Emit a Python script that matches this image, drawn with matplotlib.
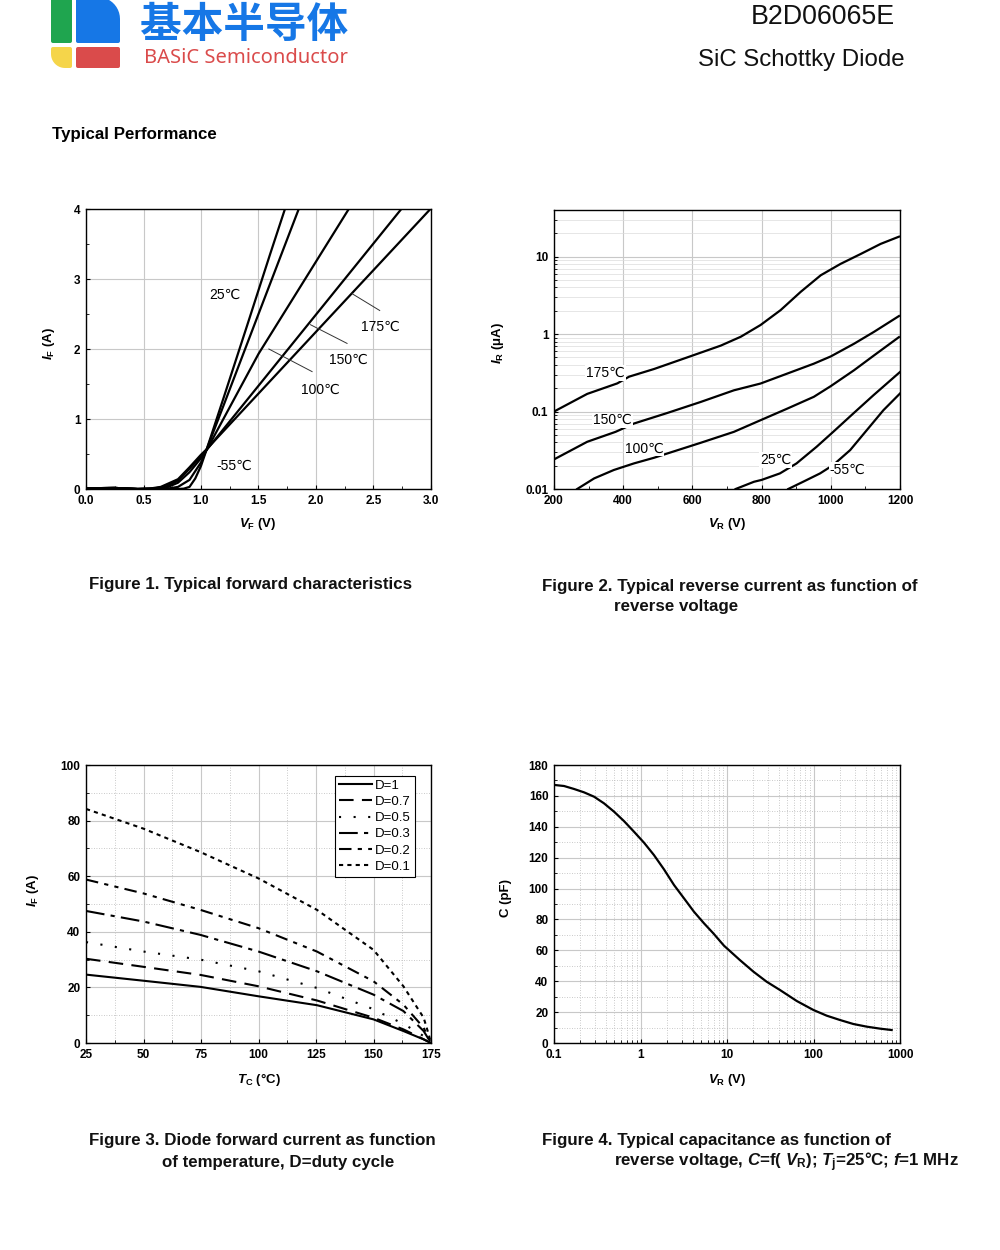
import numpy as np
import matplotlib
matplotlib.use("Agg")
import matplotlib.pyplot as plt
from matplotlib.patches import Polygon
from matplotlib.ticker import MultipleLocator, FixedLocator, FuncFormatter, NullFormatter, LogLocator

plt.rcParams['font.family'] = ['Liberation Sans', 'DejaVu Sans']
plt.rcParams['mathtext.fontset'] = 'custom'
plt.rcParams['mathtext.rm'] = 'Liberation Sans:bold'
plt.rcParams['mathtext.it'] = 'Liberation Sans:italic:bold'
plt.rcParams['mathtext.bf'] = 'Liberation Sans:bold'

# ---------------- Figure 1 data: forward characteristics ----------------
vf_m55 = [0.0, 0.25, 0.45, 0.80, 0.85, 0.90, 0.95, 1.00, 1.05, 1.20, 1.40, 1.60, 1.73]
if_m55 = [0.01, 0.015, 0.0, 0.0, 0.005, 0.03, 0.15, 0.33, 0.57, 1.32, 2.33, 3.35, 4.0]
vf_25 = [0.0, 0.25, 0.45, 0.70, 0.80, 0.90, 1.00, 1.05, 1.20, 1.50, 1.85]
if_25 = [0.01, 0.015, 0.0, 0.003, 0.03, 0.13, 0.38, 0.57, 1.21, 2.5, 4.0]
vf_100 = [0.0, 0.25, 0.45, 0.60, 0.70, 0.80, 0.90, 1.00, 1.05, 1.50, 2.285]
if_100 = [0.01, 0.015, 0.0, 0.005, 0.02, 0.09, 0.24, 0.44, 0.56, 1.93, 4.0]
vf_150 = [0.0, 0.25, 0.45, 0.60, 0.70, 0.80, 0.90, 1.00, 1.05, 2.742]
if_150 = [0.01, 0.015, 0.0, 0.01, 0.04, 0.12, 0.29, 0.47, 0.56, 4.0]
vf_175 = [0.0, 0.25, 0.45, 0.55, 0.65, 0.80, 0.90, 1.00, 1.05, 2.995]
if_175 = [0.01, 0.015, 0.0, 0.005, 0.03, 0.14, 0.31, 0.49, 0.57, 4.0]

# ---------------- Figure 2 data: reverse current ----------------
vr_175 = [200, 296, 383, 417, 489, 585, 682, 740, 797, 855, 913, 971, 1028, 1086, 1144, 1197]
ir_175 = [0.1, 0.169, 0.231, 0.282, 0.354, 0.50, 0.71, 0.925, 1.31, 2.04, 3.51, 5.75, 8.05, 10.8, 14.6, 18.1]
vr_150 = [200, 296, 378, 431, 528, 624, 720, 797, 874, 951, 1000, 1067, 1125, 1197]
ir_150 = [0.0241, 0.0407, 0.0547, 0.070, 0.096, 0.133, 0.188, 0.23, 0.309, 0.415, 0.515, 0.75, 1.07, 1.71]
vr_100 = [267, 316, 373, 431, 489, 528, 624, 720, 797, 874, 951, 1000, 1067, 1125, 1197]
ir_100 = [0.01, 0.0137, 0.0176, 0.0214, 0.0253, 0.0288, 0.0395, 0.0547, 0.0773, 0.109, 0.155, 0.213, 0.341, 0.531, 0.914]
vr_25 = [725, 778, 800, 853, 901, 959, 1007, 1065, 1123, 1200]
ir_25 = [0.01, 0.0124, 0.0131, 0.0159, 0.0214, 0.0351, 0.0547, 0.0944, 0.162, 0.324]
vr_m55 = [877, 920, 969, 1007, 1056, 1104, 1152, 1200]
ir_m55 = [0.01, 0.0124, 0.0159, 0.0204, 0.0318, 0.0575, 0.104, 0.171]

# ---------------- Figure 3 data: current derating ----------------
tc_d10 = [25, 50, 74.7, 100, 125.4, 150, 163, 171.8, 175]
if_d10 = [24.6, 22.4, 20.2, 16.8, 13.6, 8.5, 4.3, 1.3, 0.0]
tc_d07 = [25, 50, 74.7, 100, 125.4, 150, 163, 170, 175]
if_d07 = [30.3, 27.4, 24.5, 20.4, 15.3, 9.1, 4.9, 2.1, 0.0]
tc_d05 = [25, 50, 74.7, 100, 125.4, 148.6, 163, 171.8, 175]
if_d05 = [36.3, 32.9, 30.0, 25.8, 19.8, 12.6, 6.9, 2.5, 0.0]
tc_d03 = [25, 50, 74.7, 100, 125.4, 150, 163, 171.8, 175]
if_d03 = [47.5, 43.7, 38.9, 32.9, 25.8, 17.4, 11.5, 4.3, 0.0]
tc_d02 = [25, 50, 74.7, 100, 125.4, 150, 163, 171.8, 175]
if_d02 = [58.8, 53.8, 47.9, 41.3, 32.9, 22.2, 13.8, 5.5, 0.0]
tc_d01 = [25, 50, 74.7, 100, 125.4, 150, 163, 171.8, 174, 175]
if_d01 = [84.2, 77.1, 68.7, 59.2, 47.9, 33.5, 20.4, 9.1, 3.1, 0.0]
duty_labels = ["D=1", "D=0.7", "D=0.5", "D=0.3", "D=0.2", "D=0.1"]

# ---------------- Figure 4 data: capacitance ----------------
vr_cap = [0.1, 0.1306, 0.17, 0.2224, 0.29, 0.378, 0.494, 0.644, 0.841, 1.098, 1.43, 1.87, 2.44, 3.18,
          4.15, 5.42, 6.95, 9.23, 14.1, 20.2, 28.7, 41.0, 64, 99.6, 142, 202, 289, 411, 587, 800]
c_cap = [167.1, 166.4, 164.5, 162.3, 159.5, 155.2, 149.8, 143.7, 136.8, 129.7, 121.7, 112.4, 102.3, 93.7,
         85.0, 77.5, 71.0, 63.0, 53.7, 46.2, 39.7, 34.3, 27.2, 21.4, 17.7, 14.9, 12.3, 10.6, 9.3, 8.4]

# ---------------- figure ----------------
W, H = 1000, 1250
fig = plt.figure(figsize=(10, 12.5), dpi=100)

def fx(x):
    return x / W

def fy(y):
    return 1 - y / H

def rect(l, t, r, b):
    return [l / W, 1 - b / H, (r - l) / W, (b - t) / H]

GRID = '#c8c8c8'
TICKFS = 8.5

def style_axes(ax):
    for s in ax.spines.values():
        s.set_linewidth(1.0)
    ax.tick_params(which='both', direction='in', labelsize=TICKFS, top=False, right=False)
    ax.tick_params(which='major', length=3, width=0.8, pad=4)
    ax.tick_params(which='minor', length=2, width=0.6)
    for lab in ax.get_xticklabels() + ax.get_yticklabels():
        lab.set_fontweight('bold')

# ---- header ----
bg = fig.add_axes([0, 0, 1, 1], zorder=-5)
bg.set_xlim(0, W)
bg.set_ylim(H, 0)
bg.axis('off')

def rounded_poly(l, t, r, b, radii):
    tl, tr, br, bl = radii
    pts = []
    def arc(cx, cy, rr, a0, a1):
        a = np.linspace(np.radians(a0), np.radians(a1), 12)
        return [(cx + rr * np.cos(t_), cy + rr * np.sin(t_)) for t_ in a]
    pts += arc(l + tl, t + tl, tl, 180, 270)
    pts += arc(r - tr, t + tr, tr, 270, 360)
    pts += arc(r - br, b - br, br, 0, 90)
    pts += arc(l + bl, b - bl, bl, 90, 180)
    return pts

bg.add_patch(Polygon(rounded_poly(51, -3, 72, 43, (2, 2, 2, 2)), closed=True, color='#1fa54f', lw=0))
bg.add_patch(Polygon(rounded_poly(76, -3, 120, 43, (2, 22, 2, 2)), closed=True, color='#1677e6', lw=0))
bg.add_patch(Polygon(rounded_poly(51, 47, 72, 68, (2, 2, 2, 14)), closed=True, color='#f5d54a', lw=0))
bg.add_patch(Polygon(rounded_poly(76, 47, 120, 68, (2, 2, 2, 2)), closed=True, color='#da4b4b', lw=0))

fig.text(fx(140), fy(25), "基本半导体", family=['Noto Sans CJK SC', 'DejaVu Sans'], fontweight='black',
         fontsize=30, color='#1677e6', ha='left', va='center')
fig.text(fx(144), fy(58), "BASiC Semiconductor", family=['Noto Sans', 'DejaVu Sans'],
         fontsize=14.5, color='#da4b4b', ha='left', va='center')
fig.text(fx(895), fy(17), "B2D06065E", fontsize=19.3, ha='right', va='center', color='#111111')
fig.text(fx(905), fy(60), "SiC Schottky Diode", fontsize=17.3, ha='right', va='center', color='#111111')
fig.text(fx(52), fy(134), "Typical Performance", fontsize=12.2, fontweight='bold', ha='left', va='center')

# ---- Figure 1 ----
ax1 = fig.add_axes(rect(86, 209, 431, 489))
for v, i in [(vf_m55, if_m55), (vf_25, if_25), (vf_100, if_100), (vf_150, if_150), (vf_175, if_175)]:
    ax1.plot(v, i, color='black', lw=1.6, solid_joinstyle='round')
ax1.set_xlim(0, 3.0)
ax1.set_ylim(0, 4)
ax1.xaxis.set_major_locator(MultipleLocator(0.5))
ax1.xaxis.set_minor_locator(MultipleLocator(0.25))
ax1.yaxis.set_major_locator(MultipleLocator(1))
ax1.yaxis.set_minor_locator(MultipleLocator(0.5))
ax1.xaxis.set_major_formatter(FuncFormatter(lambda x, p: f"{x:.1f}"))
ax1.grid(True, which='major', color=GRID, lw=0.8)
ax1.set_axisbelow(True)
style_axes(ax1)
lblkw = dict(fontsize=10, ha='center', va='center')
ax1.text(1.21, 2.78, "25℃", **lblkw)
ax1.text(1.29, 0.33, "-55℃", **lblkw)
ax1.text(2.04, 1.42, "100℃", **lblkw)
ax1.text(2.285, 1.85, "150℃", **lblkw)
ax1.text(2.56, 2.32, "175℃", **lblkw)
ax1.plot([1.59, 1.966], [2.0, 1.677], color='#333333', lw=0.7)
ax1.plot([1.952, 2.27], [2.347, 2.08], color='#333333', lw=0.7)
ax1.plot([2.314, 2.554], [2.79, 2.55], color='#333333', lw=0.7)
fig.text(fx(258), fy(524), r"$V_{\rm F}$ (V)", fontsize=9.5, fontweight='bold', ha='center', va='center')
fig.text(fx(49), fy(343), r"$I_{\rm F}$ (A)", fontsize=9.5, fontweight='bold', ha='center', va='center', rotation=90)

# ---- Figure 2 ----
ax2 = fig.add_axes(rect(554, 210, 900, 489))
for v, i in [(vr_175, ir_175), (vr_150, ir_150), (vr_100, ir_100), (vr_25, ir_25), (vr_m55, ir_m55)]:
    ax2.plot(v, i, color='black', lw=1.6, solid_joinstyle='round')
ax2.set_yscale('log')
ax2.set_xlim(200, 1200)
ax2.set_ylim(0.01, 40)
ax2.xaxis.set_major_locator(MultipleLocator(200))
ax2.xaxis.set_minor_locator(MultipleLocator(100))
ax2.yaxis.set_major_locator(FixedLocator([0.01, 0.1, 1, 10]))
ax2.yaxis.set_major_formatter(FuncFormatter(lambda y, p: {0.01: "0.01", 0.1: "0.1", 1: "1", 10: "10"}.get(round(y, 4), "")))
ax2.yaxis.set_minor_locator(LogLocator(base=10, subs=np.arange(2, 10)))
ax2.yaxis.set_minor_formatter(NullFormatter())
ax2.grid(True, which='major', color=GRID, lw=0.8)
ax2.grid(True, which='minor', axis='y', color='#dcdcdc', lw=0.5)
ax2.set_axisbelow(True)
style_axes(ax2)
bbox = dict(facecolor='white', edgecolor='none', pad=0.5)
lk2 = dict(fontsize=10, ha='center', va='center', bbox=bbox, zorder=5)
ax2.text(349, 0.315, "175℃", **lk2)
ax2.text(369, 0.0773, "150℃", **lk2)
ax2.text(460, 0.0334, "100℃", **lk2)
ax2.text(841, 0.0236, "25℃", **lk2)
ax2.text(1048, 0.0179, "-55℃", **lk2)
fig.text(fx(727), fy(524), r"$V_{\rm R}$ (V)", fontsize=9.5, fontweight='bold', ha='center', va='center')
fig.text(fx(498), fy(343), r"$I_{\rm R}$ (μA)", fontsize=9.5, fontweight='bold', ha='center', va='center', rotation=90)

# ---- Figure 3 ----
ax3 = fig.add_axes(rect(86, 765, 431, 1043))
styles = ['-', (0, (7, 4)), (0, (1, 6)), (0, (9, 3, 2, 3)), (0, (6, 3, 2, 3, 2, 3)), (0, (2, 2))]
series3 = [(tc_d10, if_d10), (tc_d07, if_d07), (tc_d05, if_d05), (tc_d03, if_d03), (tc_d02, if_d02), (tc_d01, if_d01)]
for (t, i), ls, lab in zip(series3, styles, duty_labels):
    ax3.plot(t, i, color='black', lw=1.5, linestyle=ls, label=lab)
ax3.set_xlim(25, 175)
ax3.set_ylim(0, 100)
ax3.xaxis.set_major_locator(MultipleLocator(25))
ax3.xaxis.set_minor_locator(MultipleLocator(12.5))
ax3.yaxis.set_major_locator(MultipleLocator(20))
ax3.yaxis.set_minor_locator(MultipleLocator(10))
ax3.grid(True, which='major', color=GRID, lw=0.8)
ax3.grid(True, which='minor', color='#b8b8b8', lw=0.6, linestyle=(0, (1, 2)))
ax3.set_axisbelow(True)
style_axes(ax3)
leg = ax3.legend(loc='upper right', bbox_to_anchor=(0.953, 0.962), fontsize=9.5, frameon=True, fancybox=False,
                 edgecolor='black', framealpha=1, handlelength=2.5, handletextpad=0.2, labelspacing=0.3,
                 borderpad=0.3, borderaxespad=0.0)
leg.get_frame().set_linewidth(0.8)
fig.text(fx(259), fy(1080), r"$T_{\rm C}$ (°C)", fontsize=9.5, fontweight='bold', ha='center', va='center')
fig.text(fx(33), fy(890), r"$I_{\rm F}$ (A)", fontsize=9.5, fontweight='bold', ha='center', va='center', rotation=90)

# ---- Figure 4 ----
ax4 = fig.add_axes(rect(554, 765, 900, 1043))
ax4.plot(vr_cap, c_cap, color='black', lw=1.6, solid_joinstyle='round')
ax4.set_xscale('log')
ax4.set_xlim(0.1, 1000)
ax4.set_ylim(0, 180)
ax4.xaxis.set_major_locator(FixedLocator([0.1, 1, 10, 100, 1000]))
ax4.xaxis.set_major_formatter(FuncFormatter(lambda x, p: {0.1: "0.1", 1: "1", 10: "10", 100: "100", 1000: "1000"}.get(round(x, 3), "")))
ax4.xaxis.set_minor_locator(LogLocator(base=10, subs=np.arange(2, 10)))
ax4.xaxis.set_minor_formatter(NullFormatter())
ax4.yaxis.set_major_locator(MultipleLocator(20))
ax4.yaxis.set_minor_locator(MultipleLocator(10))
ax4.grid(True, which='major', color=GRID, lw=0.8)
ax4.grid(True, which='minor', color='#b8b8b8', lw=0.6, linestyle=(0, (1, 2)))
ax4.set_axisbelow(True)
style_axes(ax4)
fig.text(fx(727), fy(1080), r"$V_{\rm R}$ (V)", fontsize=9.5, fontweight='bold', ha='center', va='center')
fig.text(fx(506), fy(898), "C (pF)", fontsize=9.5, fontweight='bold', ha='center', va='center', rotation=90)

# ---- captions ----
capkw = dict(fontsize=12.2, fontweight='bold', va='center', ha='left', color='#111111')
fig.text(fx(89), fy(585), "Figure 1. Typical forward characteristics", **capkw)
fig.text(fx(542), fy(586), "Figure 2. Typical reverse current as function of", **capkw)
fig.text(fx(614), fy(607), "reverse voltage", **capkw)
fig.text(fx(89), fy(1141), "Figure 3. Diode forward current as function", **capkw)
fig.text(fx(162), fy(1162), "of temperature, D=duty cycle", **capkw)
fig.text(fx(542), fy(1141), "Figure 4. Typical capacitance as function of", **capkw)
fig.text(fx(614), fy(1162), r"reverse voltage, $C$=f( $V_{\rm R}$); $T_{\rm j}$=25°C; $f$=1 MHz", **capkw)

fig.savefig("out.png", dpi=100)
